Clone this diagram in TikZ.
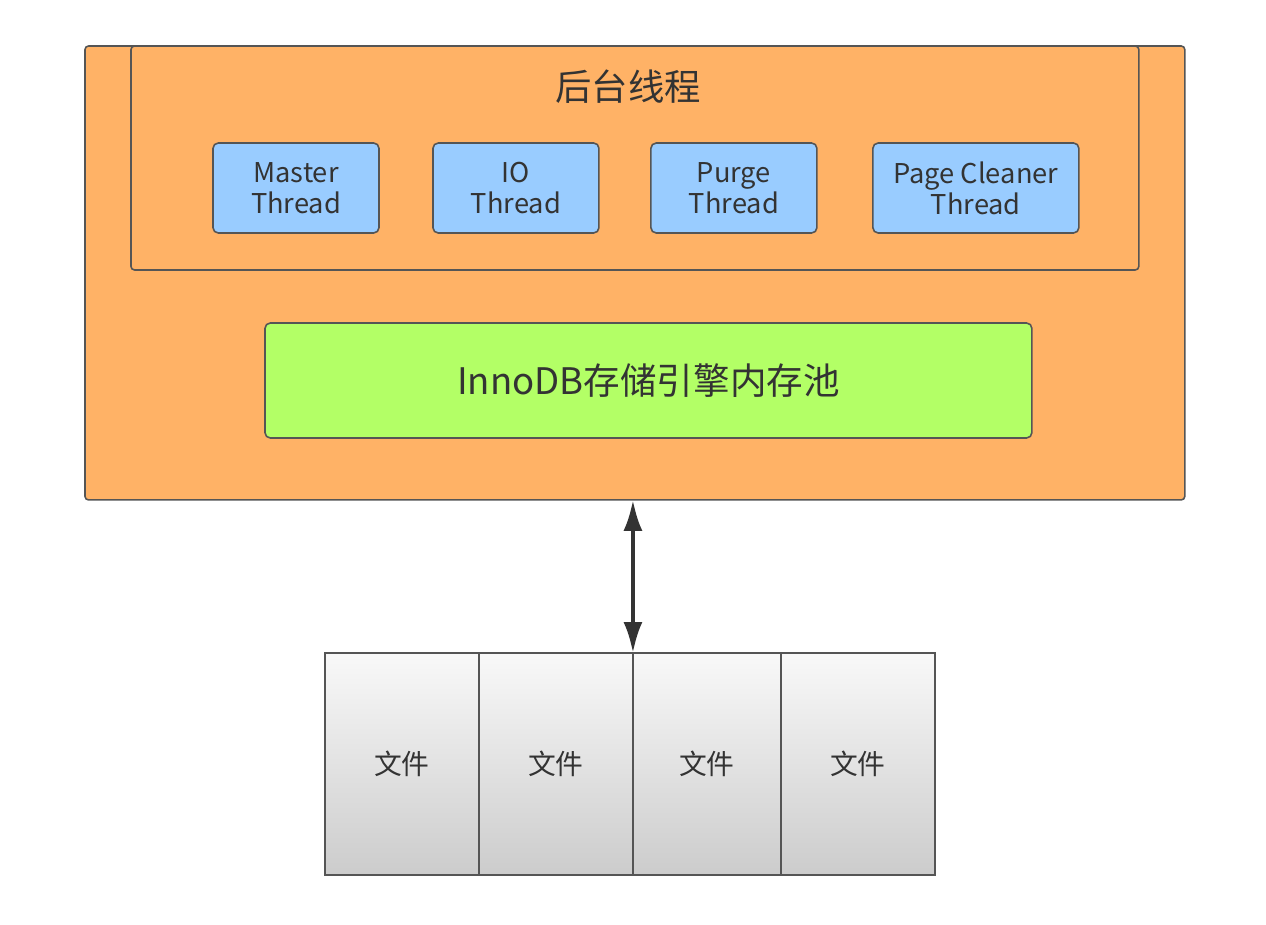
\documentclass[tikz,border=0pt]{standalone}
\usepackage{fontspec}
\setmainfont{Noto Sans CJK SC}
\usepackage{tikz}
\usetikzlibrary{arrows.meta}
\usetikzlibrary{positioning}
\definecolor{engineorange}{HTML}{FFB266}
\definecolor{threadblue}{HTML}{99CCFF}
\definecolor{poolgreen}{HTML}{B3FF66}
\definecolor{edgegray}{HTML}{555555}
\definecolor{textgray}{HTML}{333333}
\tikzset{
  % common styles
  >={Latex[length=0.62cm, width=0.38cm]},
  enginebox/.style={draw=edgegray, line width=0.9pt, fill=engineorange, rounded corners=2pt, anchor=north west, inner sep=0pt, outer sep=0pt},
  threadbox/.style={draw=edgegray, line width=0.9pt, fill=threadblue, rounded corners=3pt, minimum width=3.32cm, minimum height=1.8cm, align=center, text=textgray, font=\fontsize{15.5}{17.5}\selectfont, inner sep=0pt, outer sep=0pt},
  poolbox/.style={draw=edgegray, line width=0.9pt, fill=poolgreen, rounded corners=3pt, anchor=north west, minimum width=15.34cm, minimum height=2.3cm, text=textgray, font=\fontsize{20.8}{24}\selectfont, outer sep=0pt},
  filebox/.style={draw=edgegray, line width=0.9pt, top color=gray!5, bottom color=gray!40, minimum width=3.08cm, minimum height=4.44cm, text=textgray, font=\fontsize{15.8}{18}\selectfont, inner sep=0pt, outer sep=0pt}
}
\begin{document}
\begin{tikzpicture}[x=0.02cm, y=-0.02cm]
    \useasboundingbox[fill=white] (0,0) rectangle (1266,924);

    % engine and background threads
    \node [enginebox, minimum width=22cm, minimum height=9.08cm] (engine) at (85,46) {};
    \node [enginebox, minimum width=20.16cm, minimum height=4.48cm] (threads) at (131,46) {};
    \node [text=textgray, font=\fontsize{20.7}{24}\selectfont] (title) at (628,87) {后台线程};

    \node [threadbox, anchor=north west] (master) at (213,143) {Master\\Thread};
    \node [threadbox, right=1.08cm of master] (io) {IO\\Thread};
    \node [threadbox, right=1.04cm of io] (purge) {Purge\\Thread};
    \node [threadbox, right=1.12cm of purge, minimum width=4.12cm] (cleaner) {Page Cleaner\\Thread};

    % buffer pool
    \node [poolbox] (pool) at (265,323) {InnoDB存储引擎内存池};

    % files
    \node [filebox, anchor=north west] (file1) at (325,653) {文件};
    \node [filebox, right=0pt of file1] (file2) {文件};
    \node [filebox, right=0pt of file2, minimum width=2.96cm] (file3) {文件};
    \node [filebox, right=0pt of file3] (file4) {文件};

    % io between engine and files
    \draw [<->, line width=2.2pt, draw=textgray, fill=textgray] (file2.north east |- engine.south) -- (file2.north east);
\end{tikzpicture}
\end{document}
